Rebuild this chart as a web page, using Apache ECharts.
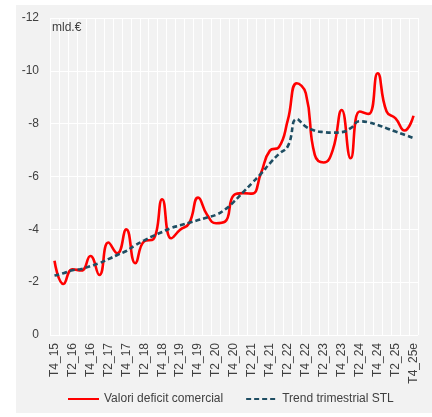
<!DOCTYPE html>
<html>
<head>
<meta charset="utf-8">
<script src="https://cdn.jsdelivr.net/npm/echarts@6/dist/echarts.min.js"></script>
<style>
html,body{margin:0;padding:0;background:#fff;}
#c{width:432px;height:417px;}
</style>
</head>
<body>
<div id="c"></div>
<script>
const categories = [
  'T4_15','T1_16','T2_16','T3_16','T4_16','T1_17','T2_17','T3_17','T4_17','T1_18',
  'T2_18','T3_18','T4_18','T1_19','T2_19','T3_19','T4_19','T1_20','T2_20','T3_20',
  'T4_20','T1_21','T2_21','T3_21','T4_21','T1_22','T2_22','T3_22','T4_22','T1_23',
  'T2_23','T3_23','T4_23','T1_24','T2_24','T3_24','T4_24','T1_25','T2_25','T3_25',
  'T4_25e'
];
const deficitValues = [
  -2.81,-1.93,-2.49,-2.44,-2.99,-2.27,-3.50,-3.09,-4.00,-2.72,
  -3.55,-3.62,-5.14,-3.66,-3.98,-4.23,-5.20,-4.55,-4.23,-4.29,
  -5.30,-5.37,-5.35,-6.12,-6.98,-7.11,-8.14,-9.53,-9.15,-6.82,
  -6.53,-7.00,-8.52,-6.69,-8.46,-8.37,-9.91,-8.46,-8.20,-7.74,
  -8.30
];
const trendValues = [
  -2.25,-2.34,-2.45,-2.50,-2.61,-2.72,-2.87,-3.03,-3.18,-3.40,
  -3.58,-3.75,-3.90,-4.05,-4.15,-4.25,-4.35,-4.45,-4.55,-4.75,
  -5.05,-5.40,-5.75,-6.10,-6.50,-6.85,-7.15,-8.17,-7.89,-7.74,
  -7.68,-7.66,-7.68,-7.83,-8.09,-8.05,-7.95,-7.83,-7.70,-7.58,
  -7.45
];
const seriesNames = ['Valori deficit comercial','Trend trimestrial STL'];
const unitLabel = 'mld.€';

const chart = echarts.init(document.getElementById('c'), null, {renderer:'canvas'});
const txt = '#404040';
const font = 'Arial';
chart.setOption({
  animation:false,
  backgroundColor:'#ffffff',
  graphic:[
    {type:'rect', z:-10, shape:{x:16,y:5,width:416,height:408}, style:{fill:'#f2f2f2'}},
    {type:'text', left:52, top:22, z:10, style:{text:unitLabel, fill:txt, fontSize:12, fontFamily:font}}
  ],
  grid:{left:50,right:14,top:18,bottom:82},
  legend:{
    bottom:7,
    left:62,
    itemWidth:31,
    itemHeight:10,
    itemGap:22,
    itemStyle:{opacity:0},
    textStyle:{color:txt,fontSize:12,fontFamily:font},
    data:seriesNames
  },
  xAxis:{
    type:'category',
    data:categories,
    boundaryGap:true,
    axisLine:{show:false},
    axisTick:{show:false},
    axisLabel:{interval:1,rotate:90,color:txt,fontSize:12,fontFamily:font,margin:8},
    splitLine:{show:true,interval:0,lineStyle:{color:'#ffffff',width:1}}
  },
  yAxis:{
    type:'value',
    inverse:true,
    min:-12,max:0,interval:2,
    axisLine:{show:false},
    axisTick:{show:false},
    axisLabel:{color:txt,fontSize:12,fontFamily:font,margin:11},
    splitLine:{show:true,lineStyle:{color:'#ffffff',width:1}}
  },
  series:[
    {name:seriesNames[0],type:'line',data:deficitValues,smooth:0.5,symbol:'none',
     lineStyle:{color:'#ff0000',width:2.6},itemStyle:{color:'#ff0000'},z:3},
    {name:seriesNames[1],type:'line',data:trendValues,smooth:0.5,symbol:'none',
     lineStyle:{color:'#1f4e63',width:2.6,type:[5,3]},itemStyle:{color:'#1f4e63'},z:4}
  ]
});
</script>
</body>
</html>
